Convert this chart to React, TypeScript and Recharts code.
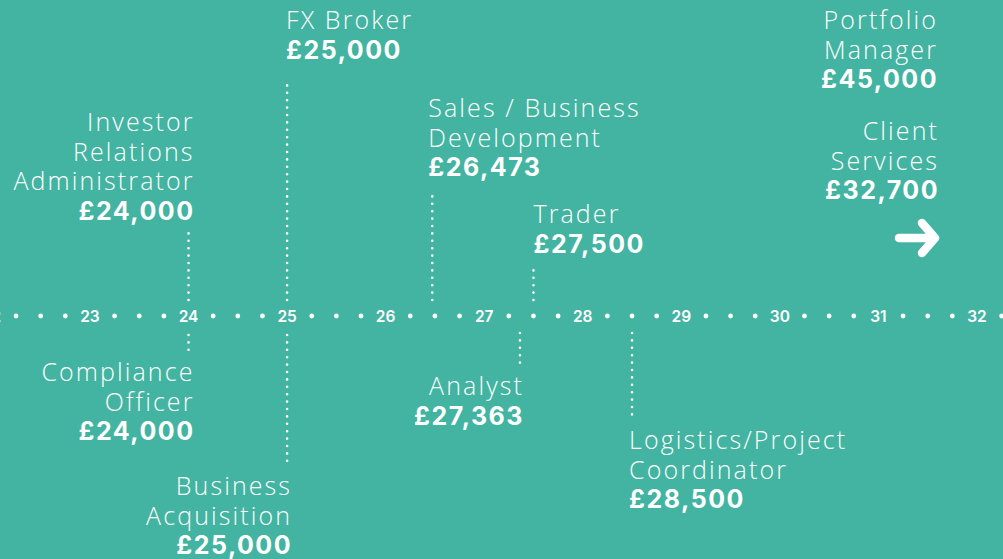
import React from 'react';
import { ComposedChart, Scatter, XAxis, YAxis, Customized } from 'recharts';

// Salary timeline, values in £
const roles = [
  ['Investor', 'Relations', 'Administrator'],
  ['Compliance', 'Officer'],
  ['FX Broker'],
  ['Business', 'Acquisition'],
  ['Sales / Business', 'Development'],
  ['Trader'],
  ['Analyst'],
  ['Logistics/Project', 'Coordinator'],
];
const salaries = [24000, 24000, 25000, 25000, 26473, 27500, 27363, 28500];

// roles that sit beyond the axis, listed at the right edge
const offRoles = [['Portfolio', 'Manager'], ['Client', 'Services']];
const offSalaries = [45000, 32700];

const axisTicks = [22, 23, 24, 25, 26, 27, 28, 29, 30, 31, 32];

// where each label sits relative to the axis (px): stem start/end, first baseline
const placement = [
  { stem: [-16, -88], base: -185, anchor: 'end', dx: 6 },
  { stem: [19, 36], base: 65, anchor: 'end', dx: 6 },
  { stem: [-16, -236], base: -287, anchor: 'start', dx: -1 },
  { stem: [19, 146], base: 179, anchor: 'end', dx: 5 },
  { stem: [-16, -124], base: -199, anchor: 'start', dx: -4 },
  { stem: [-16, -51], base: -93, anchor: 'start', dx: 0 },
  { stem: [17, 47], base: 79, anchor: 'end', dx: 4 },
  { stem: [17, 101], base: 133, anchor: 'start', dx: -3 },
];

const BG = '#43B4A1';
const LIGHT = '"Open Sans", Inter, sans-serif';
const BOLD = 'Inter, "Open Sans", sans-serif';
const LINE_H = 29.5;

const fmt = (v: number) => '£' + v.toLocaleString('en-GB');

const items = salaries.map((s, i) => ({ x: s / 1000, y: 0, lines: roles[i], salary: s, idx: i }));
const axisDots = axisTicks.flatMap((t) => [t + 0.25, t + 0.5, t + 0.75]).map((x) => ({ x, y: 0 }));
const tickData = axisTicks.map((t) => ({ x: t, y: 0 }));

const Label = ({ x, anchor, base, lines, salary }: any) => (
  <g fill="#fff" fontSize={25}>
    {lines.map((l: string, k: number) => (
      <text key={k} x={x} y={base + k * LINE_H} textAnchor={anchor} fontFamily={LIGHT} fontWeight={300} letterSpacing={2.1}>
        {l}
      </text>
    ))}
    <text x={x} y={base + lines.length * LINE_H} textAnchor={anchor} fontFamily={BOLD} fontWeight={700} letterSpacing={1.5}>
      {fmt(salary)}
    </text>
  </g>
);

const ItemShape = (props: any) => {
  const { cx, cy, payload } = props;
  const p = placement[payload.idx];
  return (
    <g>
      <line
        x1={cx}
        x2={cx}
        y1={cy + p.stem[0]}
        y2={cy + p.stem[1]}
        stroke="#fff"
        strokeWidth={2.6}
        strokeLinecap="round"
        strokeDasharray="0 7.4"
      />
      <Label x={cx + p.dx} anchor={p.anchor} base={cy + p.base} lines={payload.lines} salary={payload.salary} />
    </g>
  );
};

const DotShape = (props: any) => <circle cx={props.cx} cy={props.cy} r={2.4} fill="#fff" />;

const TickShape = (props: any) => (
  <text x={props.cx} y={props.cy} dy={6} textAnchor="middle" fill="#fff" fontFamily={BOLD} fontSize={15.5} fontWeight={600}>
    {props.payload.x}
  </text>
);

const RightPanel = (props: any) => {
  const right = (props.width || 1003) - 65;
  return (
    <g>
      <Label x={right} anchor="end" base={29} lines={offRoles[0]} salary={offSalaries[0]} />
      <Label x={right + 1} anchor="end" base={140} lines={offRoles[1]} salary={offSalaries[1]} />
      <path
        d={`M ${right - 39} 238 L ${right - 3} 238 M ${right - 16} 223 L ${right - 3} 238 L ${right - 16} 253`}
        stroke="#fff"
        strokeWidth={8.5}
        strokeLinecap="round"
        strokeLinejoin="round"
        fill="none"
      />
    </g>
  );
};

const App: React.FC = () => {
  return (
    <div style={{ position: 'absolute', left: 0, top: 0, width: 1003, height: 559, background: BG, overflow: 'hidden' }}>
      <ComposedChart width={1003} height={559} margin={{ top: 0, right: 0, bottom: 0, left: 0 }}>
        <XAxis dataKey="x" type="number" domain={[22.087, 32.264]} allowDataOverflow hide />
        {/* axis sits 316px from the top, 243px from the bottom */}
        <YAxis dataKey="y" type="number" domain={[-243, 316]} allowDataOverflow hide />
        <Scatter data={axisDots} shape={<DotShape />} isAnimationActive={false} />
        <Scatter data={tickData} shape={<TickShape />} isAnimationActive={false} />
        <Scatter data={items} shape={<ItemShape />} isAnimationActive={false} />
        <Customized component={RightPanel} />
      </ComposedChart>
    </div>
  );
};

export default App;
